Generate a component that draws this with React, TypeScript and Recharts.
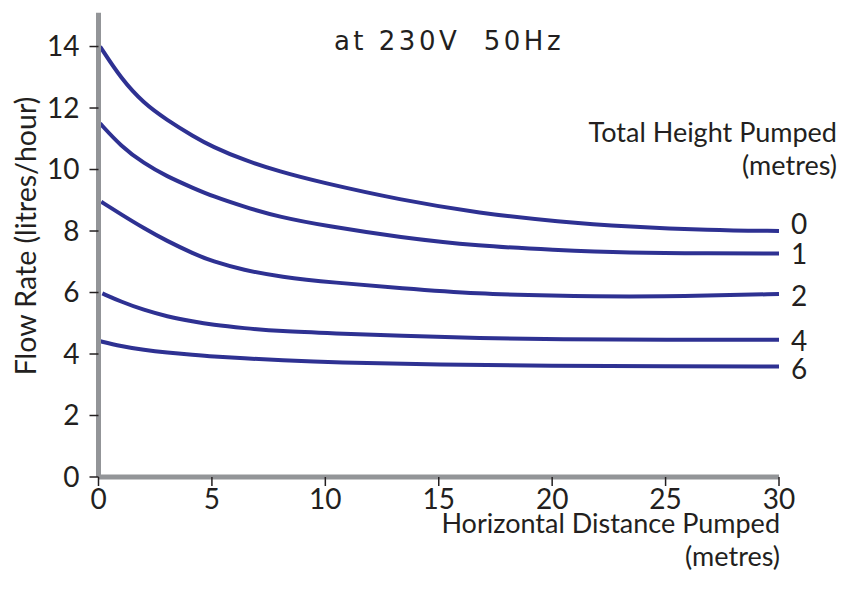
import React from 'react';
import { LineChart, Line, XAxis, YAxis } from 'recharts';

// distance pumped (m) vs flow rate (l/h), one list per total height pumped
const height0 = [
  { x: 0.07, y: 14.0 }, { x: 1, y: 12.95 }, { x: 2.0, y: 12.15 }, { x: 3, y: 11.62 },
  { x: 4.2, y: 11.07 }, { x: 5, y: 10.75 }, { x: 6.4, y: 10.31 }, { x: 8, y: 9.93 },
  { x: 9.7, y: 9.6 }, { x: 13.3, y: 9.01 }, { x: 16.8, y: 8.58 }, { x: 20.3, y: 8.3 },
  { x: 23.4, y: 8.14 }, { x: 26.9, y: 8.03 }, { x: 30, y: 8.0 },
];
const height1 = [
  { x: 0.07, y: 11.5 }, { x: 1, y: 10.75 }, { x: 2.0, y: 10.2 }, { x: 3, y: 9.78 },
  { x: 4.2, y: 9.39 }, { x: 5, y: 9.14 }, { x: 6.4, y: 8.79 }, { x: 8, y: 8.45 },
  { x: 10.0, y: 8.17 }, { x: 13.3, y: 7.79 }, { x: 16.8, y: 7.51 }, { x: 20.0, y: 7.39 },
  { x: 23.4, y: 7.29 }, { x: 26.9, y: 7.27 }, { x: 30, y: 7.27 },
];
const height2 = [
  { x: 0.12, y: 8.95 }, { x: 1, y: 8.54 }, { x: 2.0, y: 8.09 }, { x: 3, y: 7.68 },
  { x: 4.2, y: 7.26 }, { x: 5, y: 7.02 }, { x: 6.4, y: 6.73 }, { x: 8, y: 6.51 },
  { x: 10.4, y: 6.32 }, { x: 13.3, y: 6.14 }, { x: 16.8, y: 5.95 }, { x: 19.9, y: 5.9 },
  { x: 23.4, y: 5.86 }, { x: 26.9, y: 5.9 }, { x: 30, y: 5.95 },
];
const height4 = [
  { x: 0.17, y: 5.97 }, { x: 1, y: 5.7 }, { x: 2.0, y: 5.43 }, { x: 3, y: 5.225 },
  { x: 4.2, y: 5.05 }, { x: 5, y: 4.95 }, { x: 6.4, y: 4.84 }, { x: 8, y: 4.74 },
  { x: 10.4, y: 4.67 }, { x: 13.3, y: 4.59 }, { x: 16.8, y: 4.51 }, { x: 20.3, y: 4.48 },
  { x: 25, y: 4.46 }, { x: 30, y: 4.46 },
];
const height6 = [
  { x: 0.0, y: 4.43 }, { x: 1, y: 4.25 }, { x: 2.0, y: 4.13 }, { x: 3, y: 4.045 },
  { x: 4.2, y: 3.97 }, { x: 5, y: 3.92 }, { x: 6.4, y: 3.86 }, { x: 8, y: 3.8 },
  { x: 10.4, y: 3.72 }, { x: 15, y: 3.66 }, { x: 20, y: 3.61 }, { x: 25, y: 3.6 },
  { x: 30, y: 3.59 },
];

const xTicks = [0, 5, 10, 15, 20, 25, 30];
const yTicks = [0, 2, 4, 6, 8, 10, 12, 14];

const series = [
  { name: '0', data: height0, dy: -8 },
  { name: '1', data: height1, dy: 0 },
  { name: '2', data: height2, dy: 1 },
  { name: '4', data: height4, dy: 0 },
  { name: '6', data: height6, dy: 1.5 },
];

const INK = '#231f20';
const BLUE = '#2e3192';
const AXIS = '#939598';
const FONT = 'Lato, "Open Sans", sans-serif';

const endLabel = (name: string, dy: number, last: number) => (props: any) => {
  if (props.index !== last) return null;
  return (
    <text x={props.x + 12} y={props.y + dy} dominantBaseline="central"
      fontSize={28} fill={INK} fontFamily={FONT}>
      {name}
    </text>
  );
};

export default function App() {
  return (
    <div style={{ position: 'absolute', left: 0, top: 0, width: 841, height: 602, background: '#fff', fontFamily: FONT }}>
      <LineChart width={841} height={602} margin={{ top: 12.7, right: 62, bottom: 95, left: 38.5 }}>
        <XAxis
          type="number"
          dataKey="x"
          domain={[0, 30]}
          ticks={xTicks}
          interval={0}
          axisLine={{ stroke: AXIS, strokeWidth: 5 }}
          tickLine={{ stroke: INK, strokeWidth: 1.5 }}
          tickSize={9}
          tickMargin={3}
          tick={{ fill: INK, fontSize: 28 }}
        />
        <YAxis
          type="number"
          domain={[0, 15.1]}
          ticks={yTicks}
          interval={0}
          axisLine={{ stroke: AXIS, strokeWidth: 5 }}
          tickLine={{ stroke: INK, strokeWidth: 1.5 }}
          tickSize={9}
          tickMargin={10}
          tick={{ fill: INK, fontSize: 28 }}
        />
        {series.map((s) => (
          <Line
            key={s.name}
            data={s.data}
            dataKey="y"
            type="basis"
            stroke={BLUE}
            strokeWidth={4}
            dot={false}
            activeDot={false}
            isAnimationActive={false}
            label={endLabel(s.name, s.dy, s.data.length - 1)}
          />
        ))}
      </LineChart>
      <svg width={841} height={602} style={{ position: 'absolute', left: 0, top: 0, pointerEvents: 'none' }}>
        <g fill={INK} fontFamily={FONT} fontSize={27}>
          <text x={449} y={50} textAnchor="middle" fontSize={26} letterSpacing={3.5}
            style={{ whiteSpace: 'pre' }} fontFamily='"DejaVu Sans", sans-serif'>
            {'at 230V  50Hz'}
          </text>
          <text x={837} y={142} textAnchor="end">Total Height Pumped</text>
          <text x={837} y={175} textAnchor="end">(metres)</text>
          <text x={780} y={533} textAnchor="end">Horizontal Distance Pumped</text>
          <text x={780} y={566} textAnchor="end">(metres)</text>
          <text x={36} y={236} textAnchor="middle" fontSize={28.5} transform="rotate(-90 36 236)">
            Flow Rate (litres/hour)
          </text>
        </g>
      </svg>
    </div>
  );
}
